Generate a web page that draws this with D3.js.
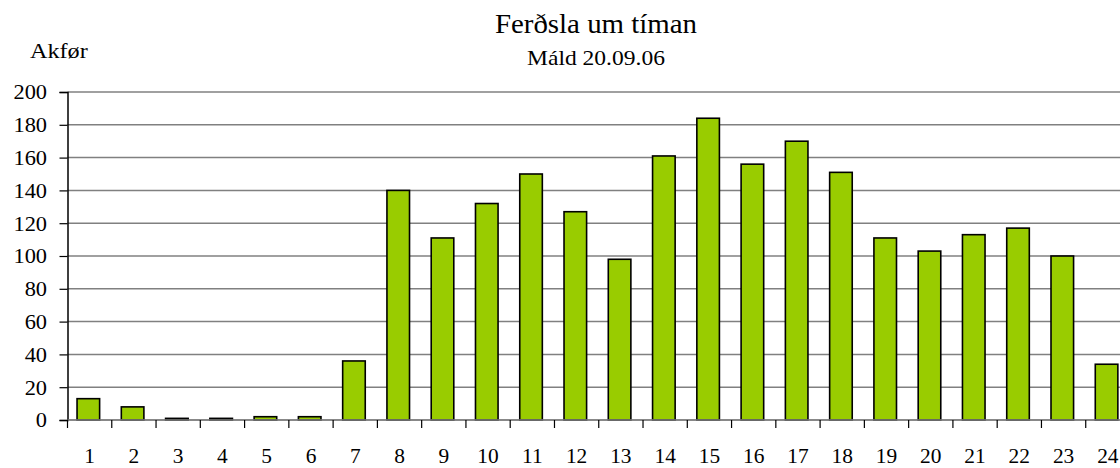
<!DOCTYPE html>
<html>
<head>
<meta charset="utf-8">
<script src="https://d3js.org/d3.v7.min.js"></script>
<style>
  body { margin: 0; background: #fff; }
  svg text { font-family: "Liberation Serif", "Times New Roman", Times, serif; fill: #000; }
</style>
</head>
<body>
<div id="chart"></div>
<script>
  // hours of the day and counted vehicles
  const hours = ["1","2","3","4","5","6","7","8","9","10","11","12","13","14","15","16","17","18","19","20","21","22","23","24"];
  const counts = [13, 8, 1, 1, 2, 2, 36, 140, 111, 132, 150, 127, 98, 161, 184, 156, 170, 151, 111, 103, 113, 117, 100, 34];
  const yTicks = [0, 20, 40, 60, 80, 100, 120, 140, 160, 180, 200];

  const width = 1120, height = 468;
  const margin = {top: 92, right: -10, bottom: 48, left: 67.5};
  const plotW = width - margin.left - margin.right,
        plotH = height - margin.top - margin.bottom;

  // the original text is a bit wider than the font, stretch it sideways
  function stretch(sel, k) {
    sel.attr("transform", function() {
      const x0 = +this.getAttribute("x") || 0;
      return `translate(${x0 * (1 - k)},0) scale(${k},1)`;
    });
  }

  const svg = d3.select("#chart")
    .append("svg")
      .attr("width", width)
      .attr("height", height);

  const g = svg.append("g")
      .attr("transform", `translate(${margin.left},${margin.top})`);

  const x = d3.scaleBand().domain(hours).range([0, plotW])
      .paddingInner(0.49).paddingOuter(0.245).align(0.44);
  const y = d3.scaleLinear().domain([0, 200]).range([plotH, 0]);

  // gridlines
  g.selectAll(".grid")
    .data(yTicks)
    .join("line")
      .attr("class", "grid")
      .attr("x1", 0)
      .attr("x2", plotW)
      .attr("y1", d => y(d))
      .attr("y2", d => y(d))
      .attr("stroke", "#808080")
      .attr("stroke-width", 1.5);

  // y axis
  const yAxis = g.append("g")
    .call(d3.axisLeft(y).tickValues(yTicks).tickSize(8).tickPadding(12.5));
  yAxis.attr("font-family", null);
  yAxis.select(".domain").attr("stroke", "#000").attr("stroke-width", 1.5);
  yAxis.selectAll(".tick line").attr("stroke", "#000").attr("stroke-width", 1.2);
  yAxis.selectAll("text")
    .style("font-size", "20px")
    .attr("dy", "0.34em")
    .call(stretch, 1.12);

  // bars
  g.selectAll(".bar")
    .data(counts)
    .join("rect")
      .attr("class", "bar")
      .attr("x", (d, i) => x(hours[i]))
      .attr("width", x.bandwidth())
      .attr("y", d => y(d))
      .attr("height", d => y(0) - y(d))
      .attr("fill", "#99cc00")
      .attr("stroke", "#000")
      .attr("stroke-width", 1.6);

  // x axis: ticks between categories
  const step = x.step();
  const xAxis = g.append("g").attr("transform", `translate(0,${plotH})`);
  xAxis.append("line")
    .attr("x1", 0).attr("x2", plotW)
    .attr("stroke", "#808080").attr("stroke-width", 1.5);
  xAxis.selectAll(".xtick")
    .data(d3.range(hours.length + 1))
    .join("line")
      .attr("class", "xtick")
      .attr("x1", i => i * step)
      .attr("x2", i => i * step)
      .attr("y1", 0)
      .attr("y2", 8)
      .attr("stroke", "#000")
      .attr("stroke-width", 1.2);
  xAxis.selectAll(".xlabel")
    .data(hours)
    .join("text")
      .attr("class", "xlabel")
      .attr("x", (d, i) => (i + 0.5) * step)
      .attr("y", 43)
      .attr("text-anchor", "middle")
      .style("font-size", "20px")
      .text(d => d)
      .call(stretch, 1.07);

  // titles
  svg.append("text")
    .attr("x", 596).attr("y", 33)
    .attr("text-anchor", "middle")
    .style("font-size", "27px")
    .text("Ferðsla um tíman")
    .call(stretch, 1.07);
  svg.append("text")
    .attr("x", 596).attr("y", 65)
    .attr("text-anchor", "middle")
    .style("font-size", "22px")
    .text("Máld 20.09.06")
    .call(stretch, 1.07);
  svg.append("text")
    .attr("x", 30).attr("y", 58)
    .style("font-size", "22px")
    .text("Akfør")
    .call(stretch, 1.1);
</script>
</body>
</html>
